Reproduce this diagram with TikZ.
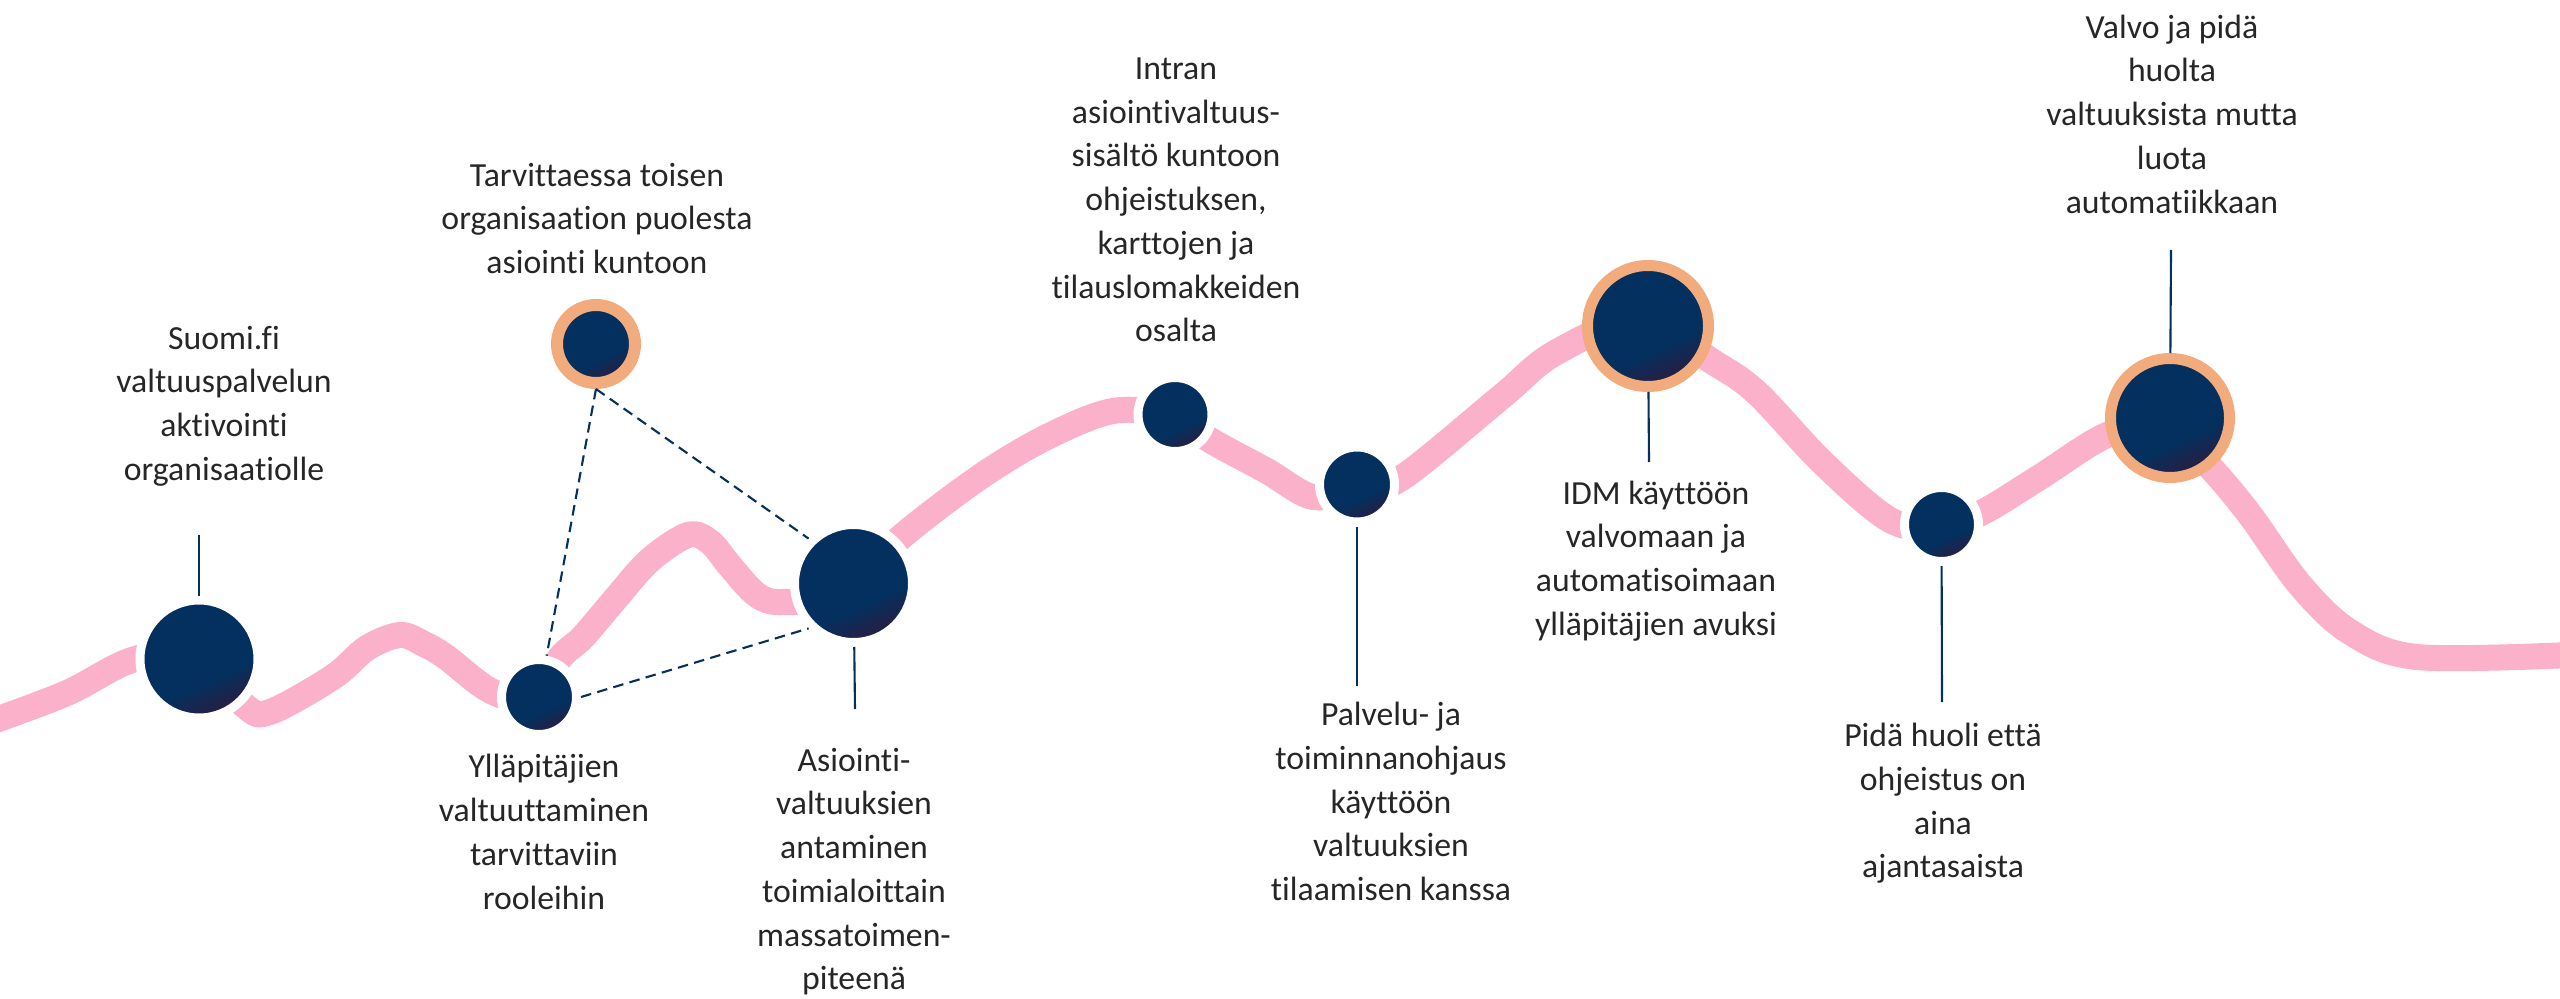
\documentclass[tikz,border=0pt]{standalone}
\usepackage{fontspec}
\setmainfont{Carlito}[Ligatures=NoCommon]

\definecolor{navy}{HTML}{03305E}
\definecolor{dotdark}{HTML}{2B1C40}
\definecolor{rosa}{HTML}{FCB1CB}
\definecolor{apricot}{HTML}{F2AB7C}
\definecolor{txtgray}{HTML}{262626}

\pgfdeclareverticalshading{dotshade}{100bp}{color(0bp)=(dotdark); color(25bp)=(dotdark); color(40bp)=(navy); color(100bp)=(navy)}

\tikzset{
  dot/.style={shape=circle, shade, shading=dotshade, shading angle=25, draw=white, line width=0.09cm, inner sep=0pt},
  ringdot/.style={shape=circle, shade, shading=dotshade, shading angle=25, draw=apricot, inner sep=0pt},
  road/.style={draw=rosa, line width=0.26cm},
  stem/.style={draw=navy, line width=0.6pt},
  dashline/.style={draw=navy, line width=0.6pt, dash pattern=on 3pt off 1.8pt},
  txt/.style={align=center, text=txtgray, font=\fontsize{9.6}{12.45}\selectfont},
}

\begin{document}
\begin{tikzpicture}
  \useasboundingbox (0, 0) rectangle (25.6, 9.98);

  \draw[road] plot[smooth, tension=0.55] coordinates {(-0.1,2.76) (0.67,3.05) (1.32,3.38) (1.95,3.45) (2.45,2.92) (2.70,2.86) (3.33,3.21) (3.67,3.50) (4.00,3.63) (4.24,3.54) (4.46,3.41) (4.91,3.07) (5.35,2.98) (5.60,3.40) (5.83,3.61) (6.17,4.01) (6.50,4.38) (6.88,4.63) (7.10,4.56) (7.30,4.32) (7.57,4.03) (7.83,3.96) (8.45,4.05) (9.00,4.60) (9.80,5.21) (10.47,5.61) (11.13,5.87) (11.70,5.82) (12.15,5.55) (12.67,5.27) (13.13,5.01) (13.57,5.10) (14.00,5.19) (15.00,6.00) (15.55,6.45) (16.40,6.78) (17.13,6.36) (17.57,6.05) (18.23,5.35) (18.90,4.78) (19.40,4.70) (19.83,4.86) (20.40,5.21) (21.07,5.63) (21.65,5.75) (22.10,5.31) (22.50,4.83) (23.00,4.13) (23.50,3.66) (24.17,3.41) (25.70,3.43)};

  \node[dot, minimum size=1.18cm] (A) at (1.99, 3.39){};
  \node[dot, minimum size=0.75cm] (B) at (5.39, 3.01){};
  \node[ringdot, line width=0.12cm, minimum size=0.78cm] (C) at (5.96, 6.54){};
  \node[dot, minimum size=1.18cm] (D) at (8.535, 4.145){};
  \node[dot, minimum size=0.74cm] (E) at (11.75, 5.835){};
  \node[dot, minimum size=0.75cm] (F) at (13.57, 5.135){};
  \node[ringdot, line width=0.11cm, minimum size=1.21cm] (G) at (16.48, 6.72){};
  \node[dot, minimum size=0.74cm] (H) at (19.415, 4.735){};
  \node[ringdot, line width=0.11cm, minimum size=1.19cm] (I) at (21.70, 5.80){};

  \coordinate (Atop) at (1.99, 4.63);
  \coordinate (Dbot) at (8.55, 2.89);
  \coordinate (Fbot) at (13.57, 3.12);
  \coordinate (Gbot) at (16.49, 5.36);
  \coordinate (Hbot) at (19.42, 2.96);
  \coordinate (Itop) at (21.71, 7.48);

  \draw[stem] (A) -- (Atop);
  \draw[stem] (D) -- (Dbot);
  \draw[stem] (F) -- (Fbot);
  \draw[stem] (G) -- (Gbot);
  \draw[stem] (H) -- (Hbot);
  \draw[stem] (I) -- (Itop);

  \draw[dashline] (C.south) -- (B);
  \draw[dashline] (C.south) -- (D.135);
  \draw[dashline] (B.east) -- (D.225);

  \node[txt] (tA) at (2.24, 5.92){Suomi.fi\\valtuuspalvelun\\aktivointi\\organisaatiolle};
  \node[txt] (tB) at (5.44, 1.66){Ylläpitäjien\\valtuuttaminen\\tarvittaviin\\rooleihin};
  \node[txt] (tC) at (5.97, 7.795){Tarvittaessa toisen\\organisaation puolesta\\asiointi kuntoon};
  \node[txt] (tD) at (8.54, 1.265){Asiointi-\\valtuuksien\\antaminen\\toimialoittain\\massatoimen-\\piteenä};
  \node[txt] (tE) at (11.76, 7.98){Intran\\asiointivaltuus-\\sisältö kuntoon\\ohjeistuksen,\\karttojen ja\\tilauslomakkeiden\\osalta};
  \node[txt] (tF) at (13.91, 1.965){Palvelu- ja\\toiminnanohjaus\\käyttöön\\valtuuksien\\tilaamisen kanssa};
  \node[txt] (tG) at (16.56, 4.37){IDM käyttöön\\valvomaan ja\\automatisoimaan\\ylläpitäjien avuksi};
  \node[txt] (tH) at (19.43, 1.945){Pidä huoli että\\ohjeistus on\\aina\\ajantasaista};
  \node[txt] (tI) at (21.72, 8.84){Valvo ja pidä\\huolta\\valtuuksista mutta\\luota\\automatiikkaan};
\end{tikzpicture}
\end{document}
